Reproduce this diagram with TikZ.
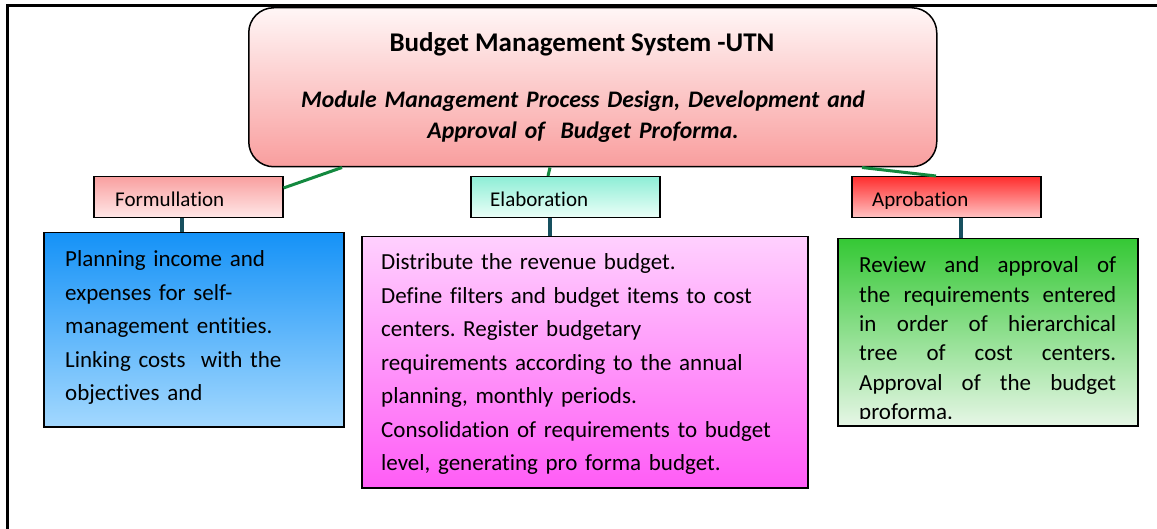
\documentclass[tikz,border=0pt]{standalone}
\usepackage{fontspec}
\setmainfont[Ligatures=NoCommon]{Carlito}
\usetikzlibrary{positioning}
\usetikzlibrary{calc}
\frenchspacing

\definecolor{headtop}{RGB}{255,246,246}
\definecolor{headbot}{RGB}{249,158,158}
\definecolor{formtop}{RGB}{249,160,160}
\definecolor{formbot}{RGB}{255,232,232}
\definecolor{elabtop}{RGB}{142,238,214}
\definecolor{elabbot}{RGB}{236,255,248}
\definecolor{aprobtop}{RGB}{255,46,46}
\definecolor{aprobbot}{RGB}{255,196,196}
\definecolor{plantop}{RGB}{21,146,247}
\definecolor{planbot}{RGB}{163,216,254}
\definecolor{distop}{RGB}{255,208,254}
\definecolor{disbot}{RGB}{255,92,246}
\definecolor{revtop}{RGB}{53,200,53}
\definecolor{revbot}{RGB}{230,246,230}
\definecolor{linkgreen}{RGB}{19,137,63}
\definecolor{stubteal}{RGB}{23,80,95}

\tikzset{
	headbox/.style={draw, line width=1.5pt, rounded corners=25pt, minimum width=688pt, minimum height=159pt, anchor=north west, inner sep=0pt, top color=headtop, bottom color=headbot},
	tagbox/.style={draw, line width=1.5pt, minimum width=189pt, minimum height=41pt, anchor=north west, inner sep=0pt},
	infobox/.style={draw, line width=1.5pt, anchor=north west, inner sep=0pt},
	tagtext/.style={anchor=base west, inner sep=0pt, font=\fontsize{21}{25}\selectfont},
	infotext/.style={anchor=base west, inner sep=0pt, text width=420pt, align=left, font=\fontsize{23}{33.5}\selectfont},
	link/.style={linkgreen, line width=3pt},
	stub/.style={stubteal, line width=4pt},
}

\begin{document}
\begin{tikzpicture}[x=1pt,y=-1pt]
	\useasboundingbox (0,0) rectangle (1157,529);
	
	% frame
	\draw[line width=3pt] (7,529) -- (7,5.5) -- (1157,5.5);
	
	% head
	\node[headbox] (head) at (248,7) {};
	\node[anchor=base, inner sep=0pt, font=\fontsize{27}{31}\selectfont\bfseries] (title) at (582,52) {Budget Management System -UTN};
	\node[anchor=base, inner sep=0pt, text width=600pt, align=center, font=\fontsize{23.7}{31}\selectfont\bfseries\itshape] (subtitle) at (583,108) {Module Management Process Design, Development and\\Approval of~ Budget Proforma.};
	
	% tags
	\node[tagbox, top color=formtop, bottom color=formbot] (form) at (93,176) {};
	\node[tagbox, top color=elabtop, bottom color=elabbot] (elab) at (470,176) {};
	\node[tagbox, top color=aprobtop, bottom color=aprobbot] (aprob) at (851,176) {};
	\node[tagtext] (formtxt) at ($(form.north west)+(22,31)$) {Formullation};
	\node[tagtext] (elabtxt) at ($(elab.north west)+(20,31)$) {Elaboration};
	\begin{scope}
		\clip (aprob.north west) rectangle ($(aprob.north east)+(0,32.5)$);
		\node[tagtext] (aprobtxt) at ($(aprob.north west)+(21,31)$) {Aprobation};
	\end{scope}
	
	% boxes
	\node[infobox, minimum width=300pt, minimum height=194pt, top color=plantop, bottom color=planbot] (plan) at (43,232) {};
	\node[infobox, minimum width=446pt, minimum height=251pt, top color=distop, bottom color=disbot] (dist) at (361,236) {};
	\node[infobox, minimum width=300pt, minimum height=187pt, top color=revtop, bottom color=revbot] (rev) at (837,238) {};
	
	\node[infotext] (plantxt) at ($(plan.north west)+(22,35)$) {Planning income and\\expenses for self-\\management entities.\\Linking costs~ with the\\objectives and};
	\node[infotext] (distxt) at ($(dist.north west)+(20,34)$) {Distribute the revenue budget.\\Define filters and budget items to cost\\centers. Register budgetary\\requirements according to the annual\\planning, monthly periods.\\Consolidation of requirements to budget\\level, generating pro forma budget.};
	\begin{scope}
		\clip (rev.north west) rectangle ($(rev.north east)+(0,180)$);
		\node[infotext, text width=257pt, align=justify, font=\fontsize{23}{29.3}\selectfont] (revtxt) at ($(rev.north west)+(22,35)$) {Review and approval of\linebreak the requirements entered\linebreak in order of hierarchical\linebreak tree of cost centers.\linebreak Approval of the budget\linebreak proforma.};
	\end{scope}
	
	% connectors
	\draw[link] ($(head.south west)+(94,0)$) -- ($(form.north east)+(0,12)$);
	\draw[link] ($(head.south west)+(302,0)$) -- ($(elab.north west)+(78,0)$);
	\draw[link] ($(head.south west)+(614,0)$) -- ($(aprob.north west)+(85,0)$);
	
	\draw[stub] ($(form.south west)+(89,0)$) coordinate (s1) -- (s1 |- plan.north);
	\draw[stub] ($(elab.south west)+(80,0)$) coordinate (s2) -- (s2 |- dist.north);
	\draw[stub] ($(aprob.south west)+(110,0)$) coordinate (s3) -- (s3 |- rev.north);
\end{tikzpicture}
\end{document}
